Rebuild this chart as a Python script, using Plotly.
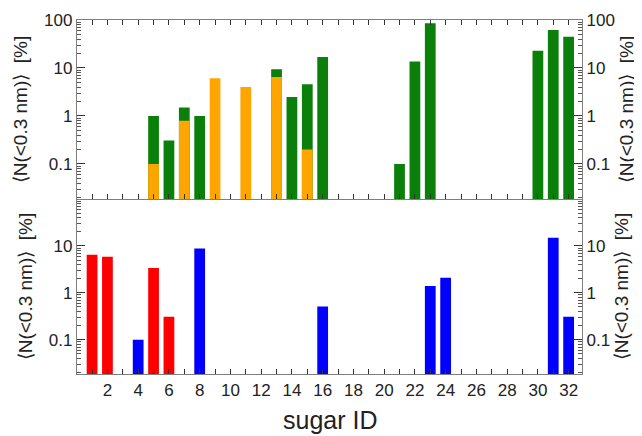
import plotly.graph_objects as go

# ---- data ----
top_green_ids = [5, 6, 7, 8, 13, 14, 15, 16, 21, 22, 23, 30, 31, 32]
top_green_vals = [1.0, 0.31, 1.5, 1.0, 9.4, 2.5, 4.6, 17, 0.1, 13.6, 86, 23, 62, 45]
top_orange_ids = [5, 7, 9, 11, 13, 15]
top_orange_vals = [0.1, 0.8, 6.1, 4.0, 6.5, 0.2]
bot_red_ids = [1, 2, 5, 6]
bot_red_vals = [6.5, 5.9, 3.4, 0.31]
bot_blue_ids = [4, 8, 16, 23, 24, 31, 32]
bot_blue_vals = [0.1, 8.8, 0.51, 1.4, 2.1, 15, 0.31]
x_tick_vals = list(range(2, 33, 2))
y_tick_vals = [0.1, 1, 10, 100]
y_label = "⟨N(&lt;0.3 nm)⟩  [%]"

GREEN = "#0a800a"
ORANGE = "#ffa500"
RED = "#ff0000"
BLUE = "#0000ff"
AX = "#7f7f7f"
FONT = "Liberation Sans, Arial, sans-serif"

# page body has an 8px default margin; size figure so plot area matches reference
W_FIG, H_FIG = 634, 428
ML, MR, MT, MB = 69, 60, 12, 62

W = 0.7
fig = go.Figure()
fig.add_bar(x=top_green_ids, y=top_green_vals, width=W, marker=dict(color=GREEN, line=dict(width=0)),
            xaxis="x", yaxis="y")
fig.add_bar(x=top_orange_ids, y=top_orange_vals, width=W, marker=dict(color=ORANGE, line=dict(width=0)),
            xaxis="x", yaxis="y")
fig.add_bar(x=bot_red_ids, y=bot_red_vals, width=W, marker=dict(color=RED, line=dict(width=0)),
            xaxis="x2", yaxis="y2")
fig.add_bar(x=bot_blue_ids, y=bot_blue_vals, width=W, marker=dict(color=BLUE, line=dict(width=0)),
            xaxis="x2", yaxis="y2")
# dummy traces for right-side axes
fig.add_scatter(x=[None], y=[None], xaxis="x", yaxis="y3", showlegend=False, hoverinfo="skip")
fig.add_scatter(x=[None], y=[None], xaxis="x2", yaxis="y4", showlegend=False, hoverinfo="skip")

xr = [0.02, 32.87]
yr = [-1.73, 2.0]
plot_h = H_FIG - MT - MB
split = (374 - 199) / plot_h  # fraction of plot height for bottom panel

xcommon = dict(range=xr, showline=True, linecolor=AX, linewidth=1.3,
               ticks="inside", ticklen=5, tickcolor="#333", tickwidth=1,
               tickvals=x_tick_vals, showgrid=False, zeroline=False,
               minor=dict(dtick=1, tick0=0, ticks="inside", ticklen=5, tickcolor="#333", showgrid=False),
               tickfont=dict(family=FONT, size=17, color="#222"))
title_font = dict(family=FONT, size=19, color="#222")
ycommon = dict(type="log", range=yr, showline=True, linecolor=AX, linewidth=1.3,
               ticks="inside", ticklen=8, tickcolor="#333", tickwidth=1,
               tickvals=y_tick_vals, ticktext=["0.1", "1", "10", "100"],
               showgrid=False, zeroline=False, automargin=False,
               minor=dict(ticks="inside", ticklen=4, tickcolor="#555", showgrid=False, dtick="D1"),
               tickfont=dict(family=FONT, size=17, color="#222"))
left_title = dict(text=y_label, font=title_font, standoff=11)
right_title = dict(text=y_label, font=title_font, standoff=5)

fig.update_layout(
    width=W_FIG, height=H_FIG,
    margin=dict(l=ML, r=MR, t=MT, b=MB),
    paper_bgcolor="white", plot_bgcolor="white",
    barmode="overlay", showlegend=False,
    xaxis=dict(xcommon, domain=[0, 1], anchor="y", showticklabels=False, matches="x2", mirror="ticks"),
    xaxis2=dict(xcommon, domain=[0, 1], anchor="y2", showticklabels=True, mirror=False),
    yaxis=dict(ycommon, domain=[split, 1], anchor="x", side="left", mirror=True, title=left_title),
    yaxis3=dict(ycommon, domain=[split, 1], anchor="x", side="right", overlaying="y", title=right_title),
    yaxis2=dict(ycommon, domain=[0, split], anchor="x2", side="left", mirror=True, title=left_title,
                tickvals=[0.1, 1, 10], ticktext=["0.1", "1", "10"]),
    yaxis4=dict(ycommon, domain=[0, split], anchor="x2", side="right", overlaying="y2", title=right_title,
                tickvals=[0.1, 1, 10], ticktext=["0.1", "1", "10"]),
)

fig.add_annotation(text="sugar ID", x=0.5, y=0, xref="paper", yref="paper", yanchor="middle",
                   yshift=-46, showarrow=False, font=dict(family=FONT, size=25, color="#222"))

fig.write_html("out.html")
